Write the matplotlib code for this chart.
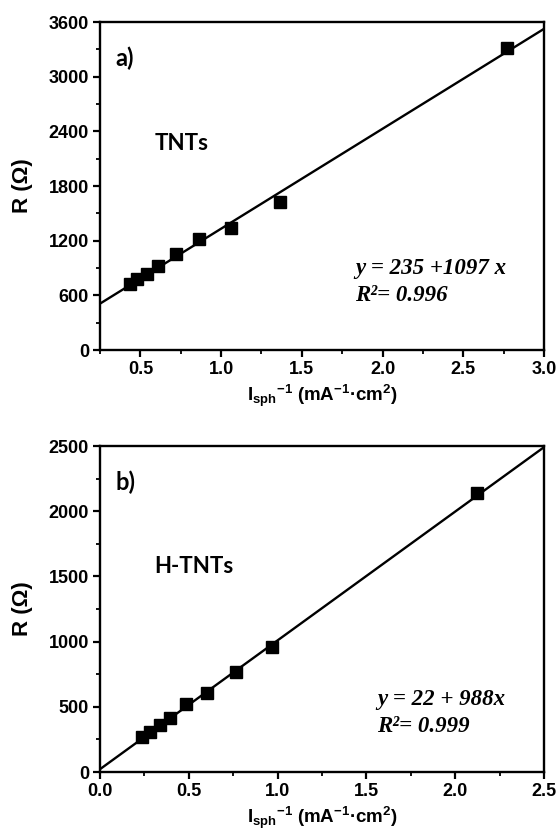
import numpy as np
import matplotlib.pyplot as plt
from matplotlib.ticker import MultipleLocator

# panel a) TNTs
x_tnt = [0.438, 0.482, 0.542, 0.610, 0.718, 0.860, 1.059, 1.363, 2.773]
r_tnt = [727, 782, 837, 921, 1056, 1217, 1341, 1626, 3315]
fit_tnt = (235, 1097)

# panel b) H-TNTs
x_htnt = [0.237, 0.281, 0.337, 0.394, 0.484, 0.602, 0.763, 0.970, 2.124]
r_htnt = [267, 305, 364, 415, 521, 610, 771, 959, 2141]
fit_htnt = (22, 988)

plt.rcParams['font.family'] = ['Liberation Sans', 'DejaVu Sans']
plt.rcParams['font.weight'] = 'bold'
plt.rcParams['mathtext.fontset'] = 'custom'
plt.rcParams['mathtext.rm'] = 'Liberation Sans:bold'
plt.rcParams['mathtext.bf'] = 'Liberation Sans:bold'
plt.rcParams['mathtext.it'] = 'Liberation Sans:bold'

XLABEL = r'I$_{\rm sph}$$^{\mathbf{-1}}$ (mA$^{\mathbf{-1}}$·cm$^{\mathbf{2}}$)'


def draw_panel(ax, xs, ys, fit, xlim, ylim, xmaj, ymaj, tag, name, eq1, eq2, eqx, eqy):
    a, b = fit
    xl = np.linspace(xlim[0], xlim[1], 50)
    ax.plot(xl, a + b * xl, color='black', lw=1.7, zorder=2)
    ax.plot(xs, ys, 's', color='black', ms=8, zorder=3)

    ax.set_xlim(*xlim)
    ax.set_ylim(*ylim)
    ax.xaxis.set_major_locator(MultipleLocator(xmaj))
    ax.xaxis.set_minor_locator(MultipleLocator(xmaj / 2))
    ax.yaxis.set_major_locator(MultipleLocator(ymaj))
    ax.yaxis.set_minor_locator(MultipleLocator(ymaj / 2))
    ax.tick_params(which='major', direction='out', length=5, width=1.6,
                   labelsize=13, pad=3)
    ax.tick_params(which='minor', direction='out', length=3, width=1.3)
    for s in ax.spines.values():
        s.set_linewidth(1.7)
    for lab in ax.get_xticklabels() + ax.get_yticklabels():
        lab.set_fontweight('heavy')

    ax.set_ylabel('R (Ω)', fontsize=16, fontweight='bold')
    ax.yaxis.set_label_coords(-0.15, 0.5)
    ax.set_xlabel(XLABEL, fontsize=13.5, fontweight='bold', labelpad=3)

    ax.text(0.034, 0.89, tag, transform=ax.transAxes, fontsize=17,
            fontweight='bold', family='Lato', va='center')
    ax.text(0.122, 0.63, name, transform=ax.transAxes, fontsize=16,
            fontweight='bold', family='Lato', va='center')
    ax.text(eqx, eqy, eq1, transform=ax.transAxes, fontsize=16.5,
            family='Liberation Serif', style='italic', fontweight='bold', va='center')
    ax.text(eqx, eqy - 0.083, eq2, transform=ax.transAxes, fontsize=16.5,
            family='Liberation Serif', style='italic', fontweight='bold', va='center')


fig = plt.figure(figsize=(5.6, 8.35), dpi=100)
ax1 = fig.add_axes([0.1786, 0.5808, 0.793, 0.3928])
ax2 = fig.add_axes([0.1786, 0.0754, 0.793, 0.3904])

draw_panel(ax1, x_tnt, r_tnt, fit_tnt, (0.25, 3.0), (0, 3600), 0.5, 600,
           'a)', 'TNTs', 'y = 235 +1097 x', 'R²= 0.996', 0.574, 0.25)
draw_panel(ax2, x_htnt, r_htnt, fit_htnt, (0.0, 2.5), (0, 2500), 0.5, 500,
           'b)', 'H-TNTs', 'y = 22 + 988x', 'R²= 0.999', 0.624, 0.222)

fig.savefig('out.png', dpi=100)
